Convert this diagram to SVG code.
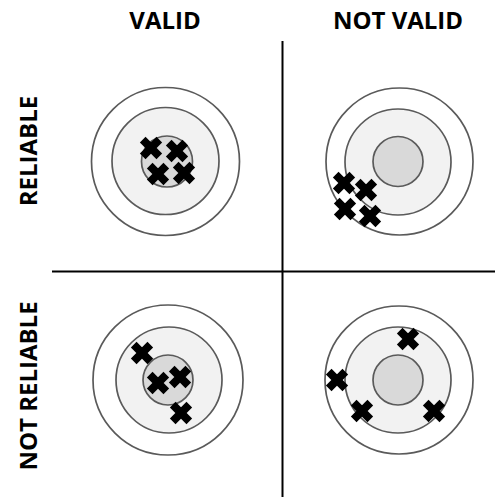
<svg xmlns="http://www.w3.org/2000/svg" xmlns:xlink="http://www.w3.org/1999/xlink" width="495" height="497" viewBox="0 0 495 497">
<style>
.lbl{font-family:"Open Sans","Noto Sans",sans-serif;font-weight:bold;font-size:24px;fill:#000;text-anchor:middle}
.o{fill:#fff;stroke:#5a5a5a;stroke-width:1.7}
.m{fill:#f2f2f2;stroke:#5a5a5a;stroke-width:1.7}
.i{fill:#d9d9d9;stroke:#5a5a5a;stroke-width:1.7}
.ax{stroke:#000;stroke-width:2;fill:none}
</style>
<defs>
<g id="x"><path d="M-8.3,-8.3L8.3,8.3M-8.3,8.3L8.3,-8.3" stroke="#000" stroke-width="8" stroke-linecap="butt" stroke-linejoin="round" fill="none"/></g>
</defs>
<rect width="495" height="497" fill="#fff"/>
<g id="labels">
<text class="lbl" x="165" y="29">VALID</text>
<text class="lbl" x="398" y="29">NOT VALID</text>
<text class="lbl" transform="translate(37,151) rotate(-90)">RELIABLE</text>
<text class="lbl" transform="translate(37,386) rotate(-90)">NOT RELIABLE</text>
</g>
<g id="connectors">
<line class="ax" x1="282.5" y1="41" x2="282.5" y2="497"/>
<line class="ax" x1="52" y1="271.5" x2="495" y2="271.5"/>
</g>
<g id="target-valid-reliable">
<circle class="o" cx="165.5" cy="161.5" r="74"/>
<circle class="m" cx="165.5" cy="161" r="53.5"/>
<circle class="i" cx="167" cy="161.5" r="25.5"/>
<use xlink:href="#x" x="151" y="148"/>
<use xlink:href="#x" x="177" y="151"/>
<use xlink:href="#x" x="158" y="174"/>
<use xlink:href="#x" x="184" y="173"/>
</g>
<g id="target-notvalid-reliable">
<circle class="o" cx="399.5" cy="161.5" r="73.5"/>
<circle class="m" cx="398" cy="162" r="53"/>
<circle class="i" cx="398" cy="161.5" r="25"/>
<use xlink:href="#x" x="344" y="183"/>
<use xlink:href="#x" x="366" y="190"/>
<use xlink:href="#x" x="345" y="209"/>
<use xlink:href="#x" x="370" y="216"/>
</g>
<g id="target-valid-notreliable">
<circle class="o" cx="168" cy="380" r="75"/>
<circle class="m" cx="169" cy="380" r="53"/>
<circle class="i" cx="168" cy="380" r="25"/>
<use xlink:href="#x" x="142" y="353"/>
<use xlink:href="#x" x="158" y="383"/>
<use xlink:href="#x" x="180" y="377"/>
<use xlink:href="#x" x="181" y="413"/>
</g>
<g id="target-notvalid-notreliable">
<circle class="o" cx="399" cy="380" r="74"/>
<circle class="m" cx="398" cy="380" r="53"/>
<circle class="i" cx="398" cy="380" r="25"/>
<use xlink:href="#x" x="408" y="339"/>
<use xlink:href="#x" x="337" y="380"/>
<use xlink:href="#x" x="362" y="411"/>
<use xlink:href="#x" x="434" y="411"/>
</g>
</svg>
